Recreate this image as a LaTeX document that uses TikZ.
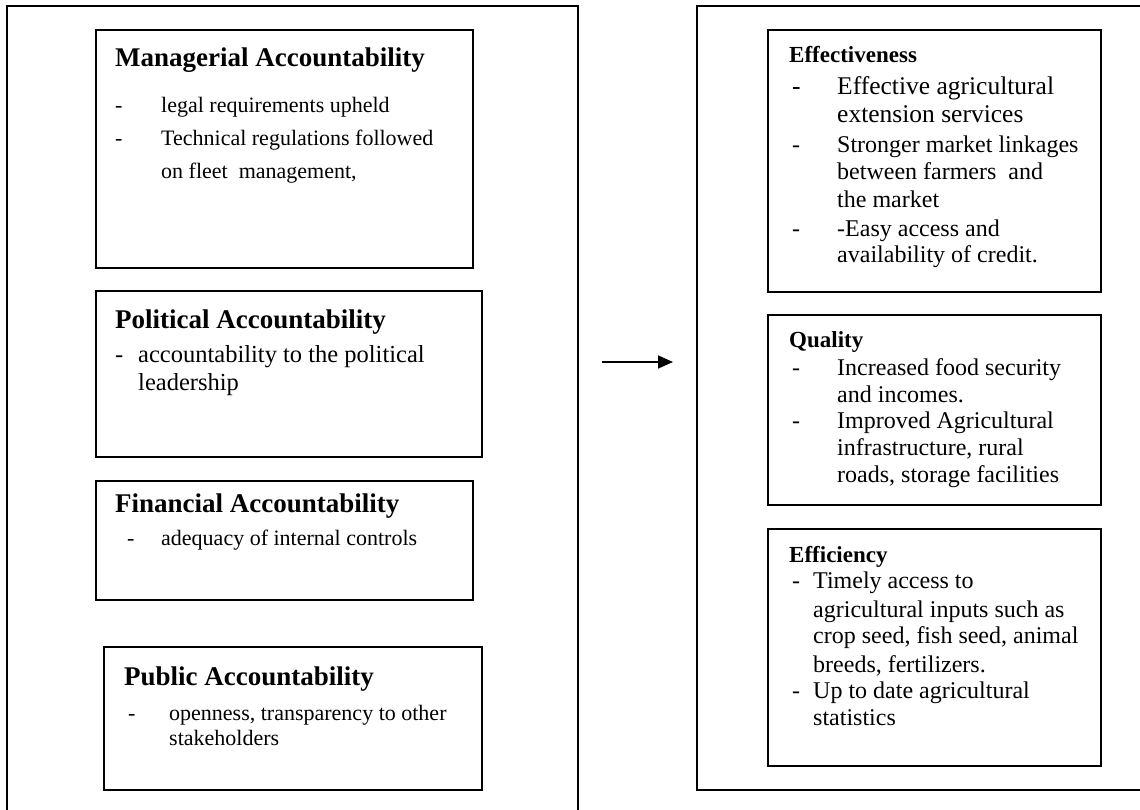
\documentclass[tikz,border=0pt]{standalone}
\usepackage{fontspec}
\setmainfont{Liberation Serif}
\usetikzlibrary{arrows.meta}
\tikzset{
  frame/.style={draw, line width=1.7pt, anchor=north west, inner sep=0pt, outer sep=0pt},
  ttlL/.style={anchor=base west, inner sep=0pt, font=\fontsize{27}{32}\selectfont\bfseries},
  ttlR/.style={anchor=base west, inner sep=0pt, font=\fontsize{23}{27}\selectfont\bfseries},
  txtL/.style={anchor=base west, inner sep=0pt, font=\fontsize{22}{26}\selectfont},
  txtP/.style={anchor=base west, inner sep=0pt, font=\fontsize{24.5}{28}\selectfont},
  txtR/.style={anchor=base west, inner sep=0pt, font=\fontsize{24}{28}\selectfont},
  txtE/.style={anchor=base west, inner sep=0pt, font=\fontsize{25.5}{28}\selectfont},
  arr/.style={line width=1.7pt, -{Triangle[length=15pt,width=13pt]}}
}
\begin{document}
\begin{tikzpicture}[x=1pt,y=-1pt]
\useasboundingbox (0,0) rectangle (1140,810);
% outer frames
\node[frame, minimum width=571pt, minimum height=806pt] (left) at (7,6) {};
\node[frame, minimum width=460pt, minimum height=784pt] (right) at (697,6) {};
% left inner boxes
\node[frame, minimum width=377pt, minimum height=238pt] (man) at (96,30) {};
\node[frame, minimum width=386pt, minimum height=166pt] (pol) at (96,291) {};
\node[frame, minimum width=377pt, minimum height=119pt] (fin) at (96,481) {};
\node[frame, minimum width=378pt, minimum height=143pt] (pub) at (104,647) {};
% right inner boxes
\node[frame, minimum width=333pt, minimum height=262pt] (eff) at (768,30) {};
\node[frame, minimum width=333pt, minimum height=190pt] (qual) at (768,315) {};
\node[frame, minimum width=333pt, minimum height=237pt] (effi) at (768,529) {};
% Managerial
\node[ttlL] (manT) at (115,67) {Managerial Accountability};
\node[txtL] (manD1) at (115,113) {-};
\node[txtL] (manL1) at (161,113) {legal requirements upheld};
\node[txtL] (manD2) at (115,146) {-};
\node[txtL] (manL2) at (161,146) {Technical regulations followed};
\node[txtL] (manL3) at (161,179) {on fleet\ \ management,};
% Political
\node[ttlL] (polT) at (115,328) {Political Accountability};
\node[txtP] (polD1) at (115,362) {-};
\node[txtP] (polL1) at (138,362) {accountability to the political};
\node[txtP] (polL2) at (138,390) {leadership};
% Financial
\node[ttlL] (finT) at (115,512) {Financial Accountability};
\node[txtL] (finD1) at (127,545) {-};
\node[txtL] (finL1) at (161,545) {adequacy of internal controls};
% Public
\node[ttlL] (pubT) at (124,685) {Public Accountability};
\node[txtL] (pubD1) at (128,720) {-};
\node[txtL] (pubL1) at (169,720) {openness, transparency to other};
\node[txtL] (pubL2) at (169,745) {stakeholders};
% Effectiveness
\node[ttlR] (effT) at (789,63) {Effectiveness};
\node[txtE] (effD1) at (792,95) {-};
\node[txtE] (effL1) at (837,95) {Effective agricultural};
\node[txtE] (effL2) at (837,123) {extension services};
\node[txtR] (effD2) at (792,153) {-};
\node[txtR] (effL3) at (837,153) {Stronger market linkages};
\node[txtR] (effL4) at (837,180) {between farmers\ \ and};
\node[txtR] (effL5) at (837,208) {the market};
\node[txtR] (effD3) at (792,237) {-};
\node[txtR] (effL6) at (837,237) {-Easy access and};
\node[txtR] (effL7) at (837,263) {availability of credit.};
% Quality
\node[ttlR] (qualT) at (789,347) {Quality};
\node[txtR] (qualD1) at (792,375) {-};
\node[txtR] (qualL1) at (837,375) {Increased food security};
\node[txtR] (qualL2) at (837,402) {and incomes.};
\node[txtR] (qualD2) at (792,428) {-};
\node[txtR] (qualL3) at (837,428) {Improved Agricultural};
\node[txtR] (qualL4) at (837,455) {infrastructure, rural};
\node[txtR] (qualL5) at (837,482) {roads, storage facilities};
% Efficiency
\node[ttlR] (effiT) at (789,562) {Efficiency};
\node[txtR] (effiD1) at (792,588) {-};
\node[txtR] (effiL1) at (813,588) {Timely access to};
\node[txtR] (effiL2) at (813,617) {agricultural inputs such as};
\node[txtR] (effiL3) at (813,643) {crop seed, fish seed, animal};
\node[txtR] (effiL4) at (813,672) {breeds, fertilizers.};
\node[txtR] (effiD2) at (792,698) {-};
\node[txtR] (effiL5) at (813,698) {Up to date agricultural};
\node[txtR] (effiL6) at (813,725) {statistics};
% arrow
\coordinate (arrS) at (602,362);
\coordinate (arrE) at (673,362);
\draw[arr] (arrS) -- (arrE);
\end{tikzpicture}
\end{document}
